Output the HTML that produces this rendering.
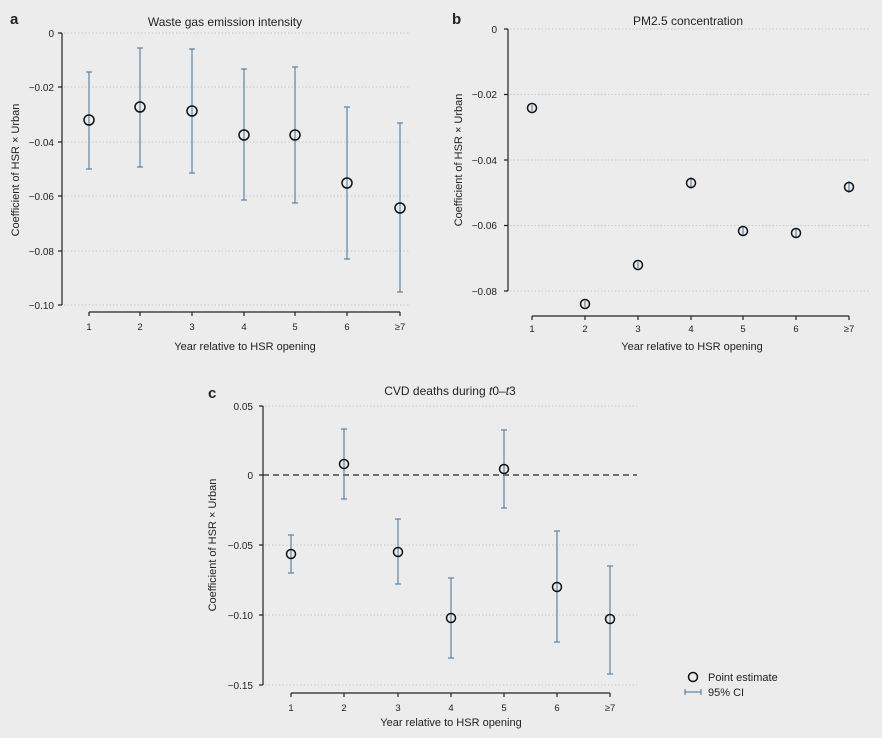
<!DOCTYPE html>
<html><head><meta charset="utf-8"><style>
html,body{margin:0;padding:0;background:#ececec;}
svg{display:block;font-family:"Liberation Sans",sans-serif;}
</style></head><body>
<svg width="882" height="738" viewBox="0 0 882 738" xmlns="http://www.w3.org/2000/svg">
<rect width="882" height="738" fill="#ececec"/>
<g font-size="10" fill="#222">
<!-- Panel a -->
<text x="10" y="24" font-size="15" font-weight="bold">a</text>
<text x="225" y="26" font-size="12" text-anchor="middle">Waste gas emission intensity</text>
<g stroke="#c8c8c8" stroke-dasharray="1.5,2" stroke-width="1">
<line x1="64" y1="33" x2="410" y2="33"/><line x1="64" y1="87" x2="410" y2="87"/><line x1="64" y1="142" x2="410" y2="142"/><line x1="64" y1="196" x2="410" y2="196"/><line x1="64" y1="251" x2="410" y2="251"/><line x1="64" y1="305" x2="410" y2="305"/>
</g>
<g stroke="#222" stroke-width="1.2" fill="none">
<path d="M62 33V305M58 33H62M58 87H62M58 142H62M58 196H62M58 251H62M58 305H62"/>
<path d="M89 312H400M89 312v4M140 312v4M192 312v4M244 312v4M295 312v4M347 312v4M400 312v4"/>
</g>
<g text-anchor="end"><text x="54" y="37">0</text><text x="54" y="91">−0.02</text><text x="54" y="146">−0.04</text><text x="54" y="200">−0.06</text><text x="54" y="255">−0.08</text><text x="54" y="309">−0.10</text></g>
<g text-anchor="middle" font-size="9.5"><text x="89" y="330">1</text><text x="140" y="330">2</text><text x="192" y="330">3</text><text x="244" y="330">4</text><text x="295" y="330">5</text><text x="347" y="330">6</text><text x="400" y="330">≥7</text></g>
<text x="245" y="350" font-size="11" text-anchor="middle">Year relative to HSR opening</text>
<text transform="translate(19,170) rotate(-90)" font-size="11" text-anchor="middle">Coefficient of HSR × Urban</text>
<g stroke="#5b86a8" stroke-width="1.2">
<path d="M89 72V169M86 72H92M86 169H92"/><path d="M140 48V167M137 48H143M137 167H143"/><path d="M192 49V173M189 49H195M189 173H195"/><path d="M244 69V200M241 69H247M241 200H247"/><path d="M295 67V203M292 67H298M292 203H298"/><path d="M347 107V259M344 107H350M344 259H350"/><path d="M400 123V292M397 123H403M397 292H403"/>
</g>
<g stroke="#111" stroke-width="1.5" fill="none">
<circle cx="89" cy="120" r="5"/><circle cx="140" cy="107" r="5"/><circle cx="192" cy="111" r="5"/><circle cx="244" cy="135" r="5"/><circle cx="295" cy="135" r="5"/><circle cx="347" cy="183" r="5"/><circle cx="400" cy="208" r="5"/>
</g>
<!-- Panel b -->
<text x="452" y="24" font-size="15" font-weight="bold">b</text>
<text x="688" y="25" font-size="12" text-anchor="middle">PM2.5 concentration</text>
<g stroke="#c8c8c8" stroke-dasharray="1.5,2" stroke-width="1">
<line x1="510" y1="29" x2="870" y2="29"/><line x1="510" y1="94.5" x2="870" y2="94.5"/><line x1="510" y1="160" x2="870" y2="160"/><line x1="510" y1="225.5" x2="870" y2="225.5"/><line x1="510" y1="291" x2="870" y2="291"/>
</g>
<g stroke="#222" stroke-width="1.2" fill="none">
<path d="M508 29V291M504 29H508M504 94.5H508M504 160H508M504 225.5H508M504 291H508"/>
<path d="M532 316H849M532 316v4M585 316v4M638 316v4M691 316v4M743 316v4M796 316v4M849 316v4"/>
</g>
<g text-anchor="end"><text x="497" y="33">0</text><text x="497" y="98">−0.02</text><text x="497" y="164">−0.04</text><text x="497" y="229">−0.06</text><text x="497" y="295">−0.08</text></g>
<g text-anchor="middle" font-size="9.5"><text x="532" y="332">1</text><text x="585" y="332">2</text><text x="638" y="332">3</text><text x="691" y="332">4</text><text x="743" y="332">5</text><text x="796" y="332">6</text><text x="849" y="332">≥7</text></g>
<text x="692" y="350" font-size="11" text-anchor="middle">Year relative to HSR opening</text>
<text transform="translate(462,160) rotate(-90)" font-size="11" text-anchor="middle">Coefficient of HSR × Urban</text>
<g stroke="#5b86a8" stroke-width="1.2">
<path d="M532 105V111M585 301V307M638 262V268M691 177V189M743 226V236M796 228V238M849 181V193"/>
</g>
<g stroke="#111" stroke-width="1.5" fill="none">
<circle cx="532" cy="108" r="4.5"/><circle cx="585" cy="304" r="4.5"/><circle cx="638" cy="265" r="4.5"/><circle cx="691" cy="183" r="4.5"/><circle cx="743" cy="231" r="4.5"/><circle cx="796" cy="233" r="4.5"/><circle cx="849" cy="187" r="4.5"/>
</g>
<!-- Panel c -->
<text x="208" y="398" font-size="15" font-weight="bold">c</text>
<text x="450" y="395" font-size="12" text-anchor="middle">CVD deaths during <tspan font-style="italic">t</tspan>0–<tspan font-style="italic">t</tspan>3</text>
<g stroke="#c8c8c8" stroke-dasharray="1.5,2" stroke-width="1">
<line x1="265" y1="406" x2="637" y2="406"/><line x1="265" y1="545" x2="637" y2="545"/><line x1="265" y1="615" x2="637" y2="615"/><line x1="265" y1="685" x2="637" y2="685"/>
</g>
<line x1="263" y1="475" x2="637" y2="475" stroke="#222" stroke-width="1.3" stroke-dasharray="6,4"/>
<g stroke="#222" stroke-width="1.2" fill="none">
<path d="M263 406V685M259 406H263M259 475H263M259 545H263M259 615H263M259 685H263"/>
<path d="M291 693H610M291 693v4M344 693v4M398 693v4M451 693v4M504 693v4M557 693v4M610 693v4"/>
</g>
<g text-anchor="end"><text x="253" y="410">0.05</text><text x="253" y="479">0</text><text x="253" y="549">−0.05</text><text x="253" y="619">−0.10</text><text x="253" y="689">−0.15</text></g>
<g text-anchor="middle" font-size="9.5"><text x="291" y="711">1</text><text x="344" y="711">2</text><text x="398" y="711">3</text><text x="451" y="711">4</text><text x="504" y="711">5</text><text x="557" y="711">6</text><text x="610" y="711">≥7</text></g>
<text x="451" y="726" font-size="11" text-anchor="middle">Year relative to HSR opening</text>
<text transform="translate(216,545) rotate(-90)" font-size="11" text-anchor="middle">Coefficient of HSR × Urban</text>
<g stroke="#5b86a8" stroke-width="1.2">
<path d="M291 535V573M288 535H294M288 573H294"/><path d="M344 429V499M341 429H347M341 499H347"/><path d="M398 519V584M395 519H401M395 584H401"/><path d="M451 578V658M448 578H454M448 658H454"/><path d="M504 430V508M501 430H507M501 508H507"/><path d="M557 531V642M554 531H560M554 642H560"/><path d="M610 566V674M607 566H613M607 674H613"/>
</g>
<g stroke="#111" stroke-width="1.5" fill="none">
<circle cx="291" cy="554" r="4.5"/><circle cx="344" cy="464" r="4.5"/><circle cx="398" cy="552" r="4.5"/><circle cx="451" cy="618" r="4.5"/><circle cx="504" cy="469" r="4.5"/><circle cx="557" cy="587" r="4.5"/><circle cx="610" cy="619" r="4.5"/>
</g>
<!-- Legend -->
<circle cx="693" cy="677" r="4.5" stroke="#111" stroke-width="1.5" fill="none"/>
<text x="708" y="681" font-size="11">Point estimate</text>
<path d="M685 692H701M685 689V695M701 689V695" stroke="#5b86a8" stroke-width="1.2"/>
<text x="708" y="696" font-size="11">95% CI</text>
</g>
</svg>
</body></html>
